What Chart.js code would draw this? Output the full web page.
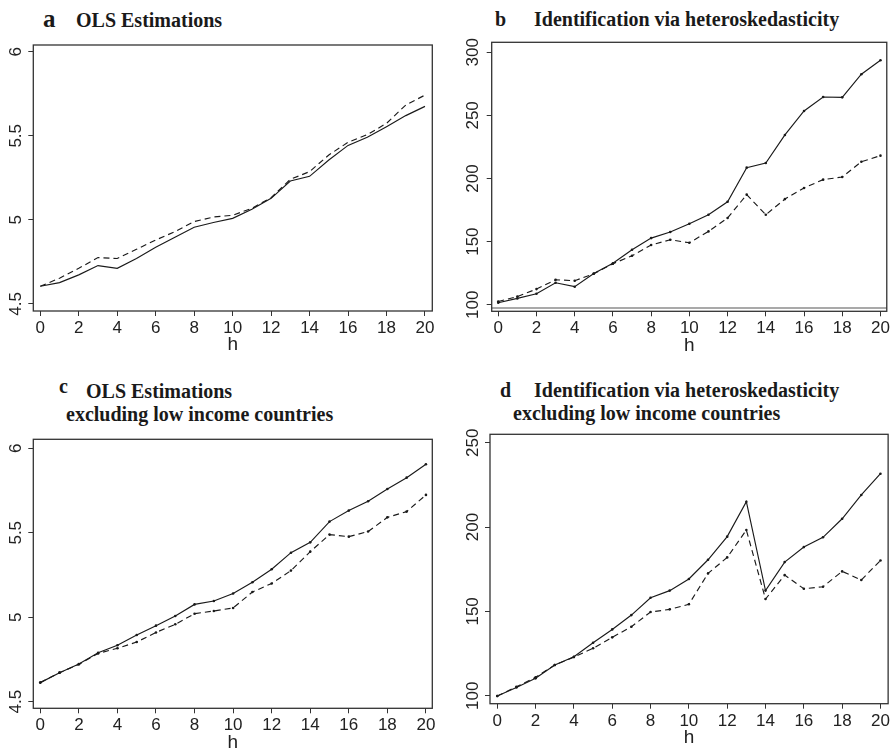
<!DOCTYPE html>
<html>
<head>
<meta charset="utf-8">
<script src="https://cdn.jsdelivr.net/npm/chart.js@4/dist/chart.umd.min.js"></script>
<style>
  html, body { margin: 0; padding: 0; background: #fff; }
  body { width: 894px; height: 754px; position: relative; overflow: hidden; }
  .t { position: absolute; font-family: "Liberation Serif", "Times New Roman", serif; font-weight: bold;
       font-size: 20px; line-height: 1; color: #1a1a1a; white-space: nowrap; }
  canvas { position: absolute; }
</style>
</head>
<body>
<div class="t" style="left:43px;top:6px;font-size:25px">a</div>
<div class="t" style="left:76px;top:10px">OLS Estimations</div>

<div class="t" style="left:495px;top:9px">b</div>
<div class="t" style="left:534px;top:9px">Identification via heteroskedasticity</div>

<div class="t" style="left:59px;top:376px">c</div>
<div class="t" style="left:86px;top:381px">OLS Estimations</div>
<div class="t" style="left:66px;top:404px">excluding low income countries</div>

<div class="t" style="left:500px;top:380px">d</div>
<div class="t" style="left:534px;top:380px">Identification via heteroskedasticity</div>
<div class="t" style="left:513px;top:403px">excluding low income countries</div>

<canvas id="pa" width="440" height="320" style="left:0;top:40px"></canvas>
<canvas id="pb" width="454" height="323" style="left:440px;top:37px"></canvas>
<canvas id="pc" width="440" height="320" style="left:0;top:434px"></canvas>
<canvas id="pd" width="454" height="325" style="left:440px;top:429px"></canvas>

<script>
// Horizon h and axis ticks
const hSteps = [0,1,2,3,4,5,6,7,8,9,10,11,12,13,14,15,16,17,18,19,20];
const xTicks = [0,2,4,6,8,10,12,14,16,18,20];
const logTicks = [4.5,5,5.5,6];
const logTickLabels = ["4.5","5","5.5","6"];
const levelTicksB = [100,150,200,250,300];
const levelTickLabelsB = ["100","150","200","250","300"];
const levelTicksD = [100,150,200,250];
const levelTickLabelsD = ["100","150","200","250"];

// a: OLS estimations
const olsSolid  = [4.605,4.627,4.673,4.728,4.712,4.770,4.837,4.896,4.956,4.984,5.009,5.063,5.128,5.231,5.259,5.356,5.443,5.491,5.554,5.620,5.675];
const olsDashed = [4.605,4.653,4.712,4.776,4.770,4.825,4.880,4.930,4.990,5.017,5.027,5.069,5.132,5.241,5.287,5.386,5.461,5.507,5.574,5.683,5.742];

// b: identification via heteroskedasticity
const hetSolid  = [101.6,105.0,108.7,117.4,114.3,124.8,132.8,143.6,152.8,157.6,164.2,171.3,181.6,208.6,212.3,234.5,253.5,264.6,264.3,282.6,293.7];
const hetDashed = [102.6,106.5,112.4,119.8,119.0,124.6,132.5,138.8,147.3,151.5,149.1,158.1,168.7,187.2,171.3,183.7,192.5,199.1,201.2,213.3,218.1];
const hetFloorB = 97.4;

// c: OLS estimations, excluding low income countries
const olsExSolid  = [4.613,4.672,4.723,4.790,4.834,4.895,4.950,5.007,5.076,5.096,5.140,5.207,5.284,5.382,5.443,5.566,5.631,5.686,5.759,5.826,5.905];
const olsExDashed = [4.613,4.672,4.721,4.786,4.816,4.853,4.910,4.958,5.021,5.037,5.055,5.149,5.200,5.276,5.388,5.489,5.477,5.507,5.591,5.625,5.724];

// d: identification via heteroskedasticity, excluding low income countries
const hetExSolid  = [99.8,104.9,110.3,118.2,123.1,131.4,139.3,147.8,158.1,162.3,169.2,180.6,194.3,215.0,162.3,179.2,188.1,193.9,204.9,219.0,231.6];
const hetExDashed = [99.8,105.3,110.9,118.2,122.9,128.1,134.6,140.9,149.6,151.2,154.2,172.5,182.0,198.2,157.3,171.5,163.4,164.6,173.7,168.6,180.2];

Chart.defaults.font.family = '"Liberation Sans", Arial, sans-serif';
Chart.defaults.color = '#222';

// Box around the plot region, vertical y labels and an optional floor line
const framePlugin = {
  id: 'frame',
  afterDraw(chart, args, opts) {
    const { ctx, chartArea: a } = chart;
    const y = chart.scales.y;
    ctx.save();
    if (opts.floor != null) {
      const py = y.getPixelForValue(opts.floor);
      ctx.strokeStyle = '#8c8c8c';
      ctx.lineWidth = 1.3;
      ctx.beginPath(); ctx.moveTo(a.left, py); ctx.lineTo(a.right, py); ctx.stroke();
    }
    ctx.strokeStyle = '#333';
    ctx.lineWidth = 1.3;
    ctx.strokeRect(a.left, a.top, a.right - a.left, a.bottom - a.top);
    ctx.fillStyle = '#222';
    ctx.font = '17px "Liberation Sans", Arial, sans-serif';
    ctx.textAlign = 'center';
    ctx.textBaseline = 'middle';
    opts.ticks.forEach((v, i) => {
      const py = y.getPixelForValue(v);
      ctx.save();
      ctx.translate(a.left - opts.gap, py);
      ctx.rotate(-Math.PI / 2);
      ctx.fillText(opts.labels[i], 0, 0);
      ctx.restore();
    });
    ctx.restore();
  }
};

function series(values) {
  return hSteps.map((h, i) => ({ x: h, y: values[i] }));
}

function panel(id, p) {
  const line = (values, dash) => ({
    data: series(values),
    borderColor: '#1a1a1a',
    backgroundColor: '#1a1a1a',
    borderWidth: 1.15,
    borderDash: dash,
    pointRadius: p.dots ? 1.3 : 0,
    pointBorderWidth: 0,
    tension: 0,
    fill: false
  });
  return new Chart(document.getElementById(id), {
    type: 'line',
    data: { datasets: [line(p.solid, []), line(p.dashed, [6, 4])] },
    options: {
      responsive: false,
      animation: false,
      devicePixelRatio: 1,
      layout: { padding: { left: 0, top: p.padTop, right: p.padRight, bottom: 0 } },
      plugins: {
        legend: { display: false },
        tooltip: { enabled: false },
        frame: { ticks: p.yTicks, labels: p.yLabels, gap: p.gap, floor: p.floor }
      },
      scales: {
        x: {
          type: 'linear', min: p.xMin, max: p.xMax,
          afterBuildTicks: s => { s.ticks = xTicks.map(v => ({ value: v })); },
          afterFit: s => { s.height = p.xHeight; },
          ticks: { font: { size: 17, lineHeight: 1 }, padding: 4, maxRotation: 0, autoSkip: false, color: '#222' },
          grid: { drawOnChartArea: false, drawTicks: true, tickLength: 5, color: '#333', lineWidth: 1 },
          border: { display: false },
          title: { display: true, text: 'h', font: { size: 19, lineHeight: 1 }, color: '#222',
                   padding: { top: 0, bottom: p.hPad } }
        },
        y: {
          type: 'linear', min: p.yMin, max: p.yMax,
          afterBuildTicks: s => { s.ticks = p.yTicks.map(v => ({ value: v })); },
          afterFit: s => { s.width = p.yWidth; },
          ticks: { display: false },
          grid: { drawOnChartArea: false, drawTicks: true, tickLength: 5, color: '#333', lineWidth: 1 },
          border: { display: false }
        }
      }
    },
    plugins: [framePlugin]
  });
}

panel('pa', {
  solid: olsSolid, dashed: olsDashed, dots: false,
  xMin: -0.364, xMax: 20.38, yMin: 4.458, yMax: 6.040,
  yTicks: logTicks, yLabels: logTickLabels, gap: 16.6,
  yWidth: 33.3, padTop: 5, padRight: 7.7, xHeight: 49, hPad: 6
});
panel('pb', {
  solid: hetSolid, dashed: hetDashed, dots: true, floor: hetFloorB,
  xMin: -0.343, xMax: 20.33, yMin: 94.8, yMax: 307.9,
  yTicks: levelTicksB, yLabels: levelTickLabelsB, gap: 18.6,
  yWidth: 51.7, padTop: 5.3, padRight: 5, xHeight: 48.7, hPad: 4.3
});
panel('pc', {
  solid: olsExSolid, dashed: olsExDashed, dots: true,
  xMin: -0.363, xMax: 20.33, yMin: 4.461, yMax: 6.053,
  yTicks: logTicks, yLabels: logTickLabels, gap: 16.6,
  yWidth: 33.3, padTop: 5.3, padRight: 7.7, xHeight: 45.7, hPad: 2
});
panel('pd', {
  solid: hetExSolid, dashed: hetExDashed, dots: true,
  xMin: -0.38, xMax: 20.4, yMin: 95.26, yMax: 254.98,
  yTicks: levelTicksD, yLabels: levelTickLabelsD, gap: 16.7,
  yWidth: 50, padTop: 5.3, padRight: 4, xHeight: 50.3, hPad: 7
});
</script>
</body>
</html>
